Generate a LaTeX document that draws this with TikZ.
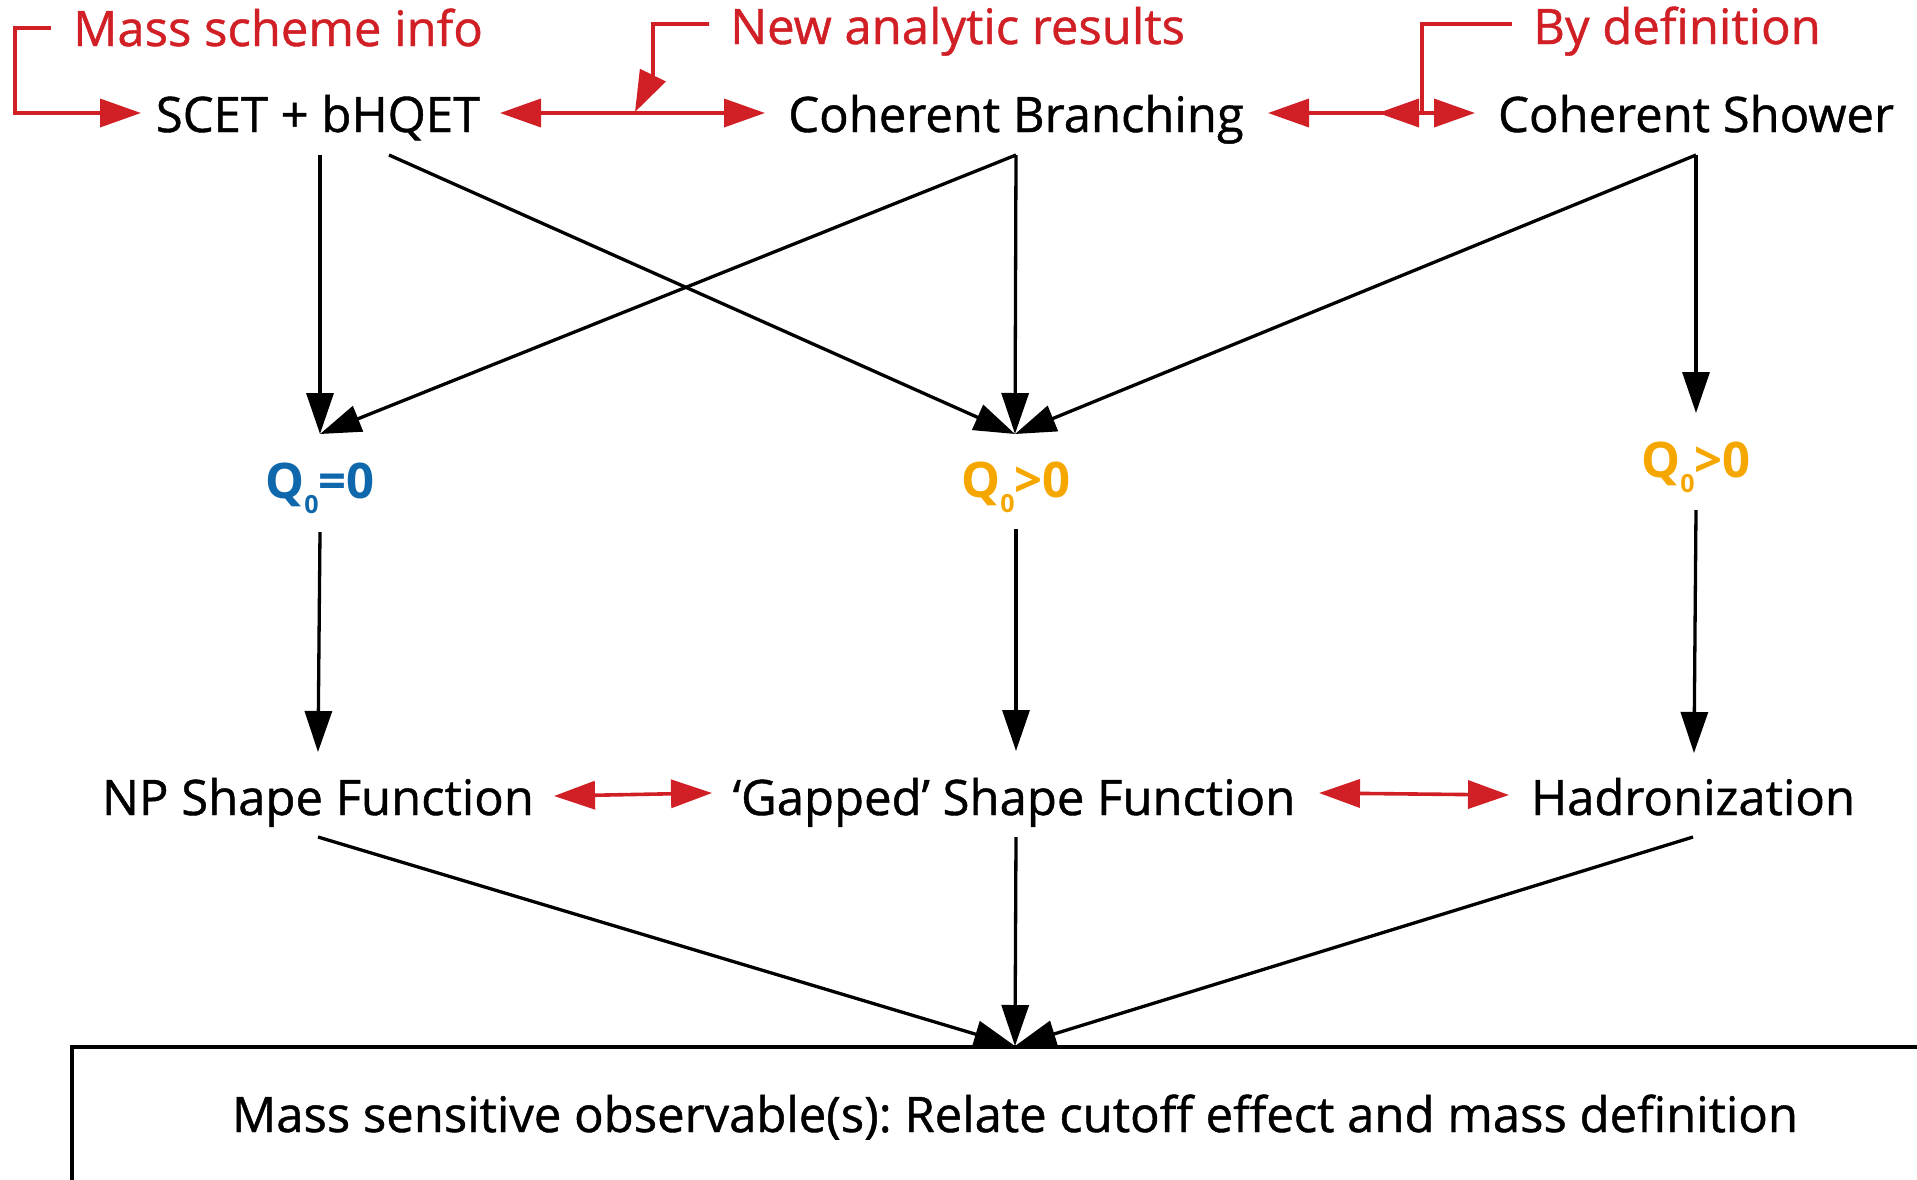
\documentclass[tikz,border=0pt]{standalone}
\usepackage{fontspec}
\setmainfont{Open Sans}
\usetikzlibrary{arrows.meta,calc}
\definecolor{myred}{HTML}{D11F26}
\definecolor{qblue}{HTML}{1068AC}
\definecolor{qorange}{HTML}{F5A700}
\frenchspacing
\tikzset{
  lbl/.style={font=\fontsize{49}{58}\selectfont\addfontfeatures{FakeBold=0.9}, inner sep=0pt, anchor=base},
  rlbl/.style={lbl, text=myred, anchor=base west},
  qlbl/.style={font=\fontsize{49}{58}\selectfont\bfseries, inner sep=0pt, anchor=base},
  blk/.style={line width=3.3pt, -{Triangle[length=41pt,width=27pt]}},
  redl/.style={draw=myred, line width=3.6pt},
  rarr/.style={redl, -{Triangle[length=41pt,width=28pt]}},
  rdbl/.style={redl, {Triangle[length=41pt,width=28pt]}-{Triangle[length=41pt,width=28pt]}},
}
\newcommand{\subz}{{\fontsize{25}{25}\selectfont\raisebox{-15pt}{0}}}
\begin{document}
\begin{tikzpicture}[x=1pt,y=-1pt]
\useasboundingbox (0,0) rectangle (1917,1179);
% annotations
\node[rlbl] (mass) at (73,46) {Mass scheme info};
\node[rlbl] (new) at (730,44) {New analytic results};
\node[rlbl] (by) at (1533,44) {By definition};
% top row
\node[lbl] (scet) at (318,132) {SCET + bHQET};
\node[lbl] (cb) at (1016,132) {Coherent Branching};
\node[lbl] (cs) at (1696,132) {Coherent Shower};
% cutoff labels
\node[qlbl, text=qblue] (q1) at (320,498) {Q\subz=0};
\node[qlbl, text=qorange] (q2) at (1016,497) {Q\subz>0};
\node[qlbl, text=qorange] (q3) at (1696,477) {Q\subz>0};
% bottom row
\node[lbl] (np) at (318,815) {NP Shape Function};
\node[lbl] (gap) at (1014,815) {‘Gapped’ Shape Function};
\node[lbl] (had) at (1693,815) {Hadronization};
\node[lbl] (obs) at (1015,1132) {Mass sensitive observable(s): Relate cutoff effect and mass definition};
% box frame
\draw[line width=3.3pt] ($(obs.base)+(-943,70)$) -- ($(obs.base)+(-943,-85)$) -- ($(obs.base)+(920,-85)$);
% black arrows row 1
\draw[blk] ($(scet.base)+(2,23)$) -- ($(q1.base)+(0,-64)$);
\draw[blk] ($(scet.base)+(71,23)$) -- ($(q2.base)+(-1,-63)$);
\draw[blk] ($(cb.base)+(0,23)$) -- ($(q1.base)+(0,-64)$);
\draw[blk] ($(cb.base)+(0,23)$) -- ($(q2.base)+(-1,-63)$);
\draw[blk] ($(cs.base)+(0,23)$) -- ($(q2.base)+(-1,-63)$);
\draw[blk] ($(cs.base)+(0,23)$) -- ($(q3.base)+(0,-64)$);
% row 2
\draw[blk] ($(q1.base)+(0,34)$) -- ($(np.base)+(0,-63)$);
\draw[blk] ($(q2.base)+(0,32)$) -- ($(gap.base)+(2,-64)$);
\draw[blk] ($(q3.base)+(0,33)$) -- ($(had.base)+(1,-62)$);
% row 3
\draw[blk] ($(np.base)+(0,22)$) -- ($(obs.base)+(0,-86)$);
\draw[blk] ($(gap.base)+(2,22)$) -- ($(obs.base)+(0,-86)$);
\draw[blk] ($(had.base)+(0,22)$) -- ($(obs.base)+(0,-86)$);
% red arrows
\draw[rdbl] ($(scet.base)+(182,-19)$) -- ($(cb.base)+(-251,-19)$);
\draw[rdbl] ($(cb.base)+(252,-19)$) -- ($(cs.base)+(-221,-19)$);
\draw[rdbl] ($(np.base)+(236,-19)$) -- ($(gap.base)+(-302,-22)$);
\draw[rdbl] ($(gap.base)+(305,-22)$) -- ($(had.base)+(-184,-20)$);
% red brackets
\draw[rarr] ($(mass.base west)+(-22,-18)$) -| ($(mass.base west)+(-58,67)$) -- ($(scet.base)+(-177,-19)$);
\draw[rarr] ($(new.base west)+(-21,-20)$) -| ($(new.base west)+(-77,31)$) -- ($(scet.base)+(317,-20)$);
\draw[rarr] ($(by.base west)+(-21,-20)$) -| ($(by.base west)+(-111,69)$) -- ($(cs.base)+(-318,-19)$);
\end{tikzpicture}
\end{document}
